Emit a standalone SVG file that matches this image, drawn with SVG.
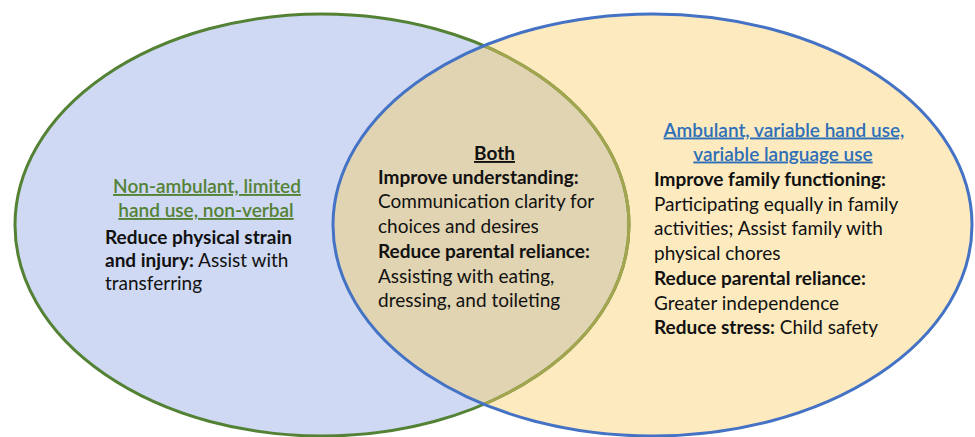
<svg xmlns="http://www.w3.org/2000/svg" width="975" height="437" viewBox="0 0 975 437">
<defs>
<clipPath id="clipLeft"><ellipse cx="322" cy="225" rx="307" ry="211"/></clipPath>
<clipPath id="clipRight"><ellipse cx="652.5" cy="225" rx="319.5" ry="211"/></clipPath>
<style>
text{font-family:Lato,"Liberation Sans",sans-serif;font-size:19px;fill:#111}
.b{font-weight:bold}
.t{text-decoration:underline;font-weight:600}
.tg{fill:#548235}
.tb{fill:#2e6fb8}
.c{text-anchor:middle}
</style>
</defs>
<g id="shapes">
<ellipse id="left-fill" cx="322" cy="225" rx="307" ry="211" fill="#cfd9f3"/>
<ellipse id="right-fill" cx="652.5" cy="225" rx="319.5" ry="211" fill="#fdeabf"/>
<ellipse id="overlap-fill" cx="652.5" cy="225" rx="319.5" ry="211" fill="#e1d4b2" clip-path="url(#clipLeft)"/>
<ellipse cx="322" cy="225" rx="307" ry="211" fill="none" stroke="#548235" stroke-width="3"/>
<ellipse cx="322" cy="225" rx="307" ry="211" fill="none" stroke="#a3a64e" stroke-width="3" clip-path="url(#clipRight)"/>
<ellipse cx="652.5" cy="225" rx="319.5" ry="211" fill="none" stroke="#4472c4" stroke-width="3"/>
</g>
<g id="left-set">
<text class="t tg c" x="207" y="193">Non-ambulant, limited</text>
<text class="t tg c" x="206" y="217">hand use, non-verbal</text>
<text class="b" x="105" y="244">Reduce physical strain</text>
<text x="105" y="267"><tspan class="b">and injury:</tspan> Assist with</text>
<text x="105" y="290">transferring</text>
</g>
<g id="both">
<text class="b c" x="494.5" y="160" text-decoration="underline">Both</text>
<text class="b" x="378" y="183.5">Improve understanding:</text>
<text x="378" y="208">Communication clarity for</text>
<text x="378" y="233">choices and desires</text>
<text class="b" x="378" y="258">Reduce parental reliance:</text>
<text x="378" y="282.5">Assisting with eating,</text>
<text x="378" y="307">dressing, and toileting</text>
</g>
<g id="right-set">
<text class="t tb c" x="784" y="136.5">Ambulant, variable hand use,</text>
<text class="t tb c" x="783" y="160.5">variable language use</text>
<text class="b" x="654" y="186">Improve family functioning:</text>
<text x="654" y="211">Participating equally in family</text>
<text x="654" y="235">activities; Assist family with</text>
<text x="654" y="260">physical chores</text>
<text class="b" x="654" y="285">Reduce parental reliance:</text>
<text x="654" y="309.5">Greater independence</text>
<text x="654" y="334"><tspan class="b">Reduce stress:</tspan> Child safety</text>
</g>
<g id="connectors"/>
</svg>
